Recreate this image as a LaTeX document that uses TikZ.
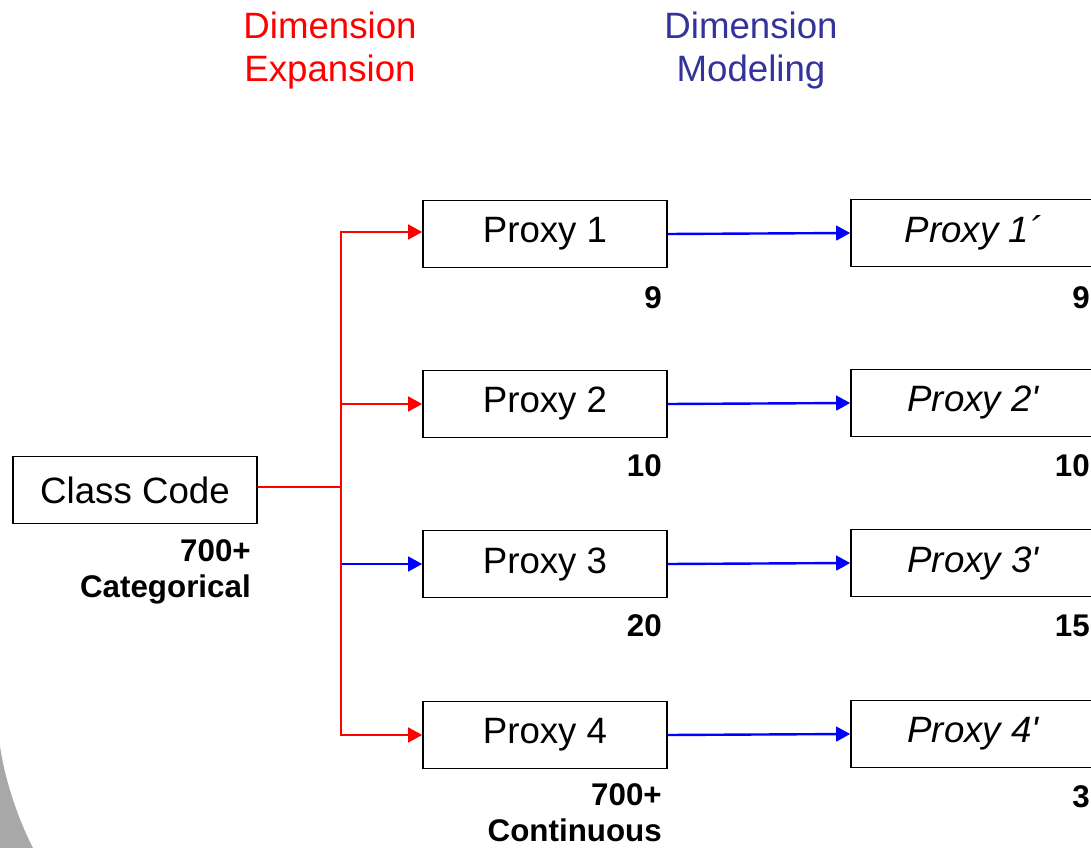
\documentclass[tikz,border=0pt]{standalone}
\usepackage{fontspec}
\defaultfontfeatures[\rmfamily]{}
\setmainfont{Liberation Sans}
\newfontfamily\qfont{Liberation Sans}
\usetikzlibrary{arrows.meta}
\definecolor{hdrblue}{RGB}{51,51,153}
\definecolor{shadegray}{RGB}{168,168,168}
\begin{document}
\begin{tikzpicture}[x=0.75pt,y=-0.75pt,
  box/.style={draw=black,line width=1.2pt,minimum width=183pt,minimum height=50.5pt,inner sep=0pt,
    font=\fontsize{27.5}{33}\selectfont},
  ibox/.style={box,font=\qfont\fontsize{27.5}{33}\selectfont\itshape},
  num/.style={inner sep=0pt,anchor=east,align=right,font=\fontsize{23.5}{27}\selectfont\bfseries},
  hdr/.style={inner sep=0pt,align=center,font=\fontsize{27.5}{32.25}\selectfont},
  redline/.style={draw=red,line width=1.8pt},
  redarr/.style={redline,-{Triangle[length=10.5pt,width=11pt]}},
  bluearr/.style={draw=blue,line width=1.8pt,-{Triangle[length=10.5pt,width=11pt]}}]
\useasboundingbox (0,0) rectangle (1091,848);
\clip (0,0) rectangle (1091,848);
% background decoration
\fill[shadegray] (0,746) .. controls (4,775) and (16,815) .. (33,848) -- (0,848) -- cycle;
% headers
\node[hdr,text=red] (h1) at (330,51) {Dimension\\Expansion};
\node[hdr,text=hdrblue] (h2) at (751,51) {Dimension\\Modeling};
% boxes
\node[box] (cc) at (135,490) {Class Code};
\node[box] (p1) at (545,234) {Proxy 1};
\node[box] (p2) at (545,404) {Proxy 2};
\node[box] (p3) at (545,564) {Proxy 3};
\node[box] (p4) at (545,735) {Proxy 4};
\node[ibox] (q1) at (973,233) {Proxy 1´};
\node[ibox] (q2) at (973,403) {Proxy 2'};
\node[ibox] (q3) at (973,563) {Proxy 3'};
\node[ibox] (q4) at (973,734) {Proxy 4'};
% labels
\node[num] (lcc) at (251,572) {700+\\Categorical};
\node[num] (l1) at (662,298) {9};
\node[num] (l2) at (662,466) {10};
\node[num] (l3) at (662,626) {20};
\node[num] (l4) at (662,813) {700+\\Continuous};
\node[num] (m1) at (1090,298) {9};
\node[num] (m2) at (1090,466) {10};
\node[num] (m3) at (1090,626) {15};
\node[num] (m4) at (1090,797) {3};
% connectors
\coordinate (j) at (341,487);
\draw[redline] (cc.east |- j) -- (j);
\draw[bluearr] (j) |- (p3.west);
\draw[redarr] (j) |- ([yshift=1.5pt]p1.west);
\draw[redarr] (j) |- (p2.west);
\draw[redarr] (j) |- (p4.west);
\draw[bluearr] (p1.east) -- (q1.west);
\draw[bluearr] (p2.east) -- (q2.west);
\draw[bluearr] (p3.east) -- (q3.west);
\draw[bluearr] (p4.east) -- (q4.west);
\end{tikzpicture}
\end{document}
